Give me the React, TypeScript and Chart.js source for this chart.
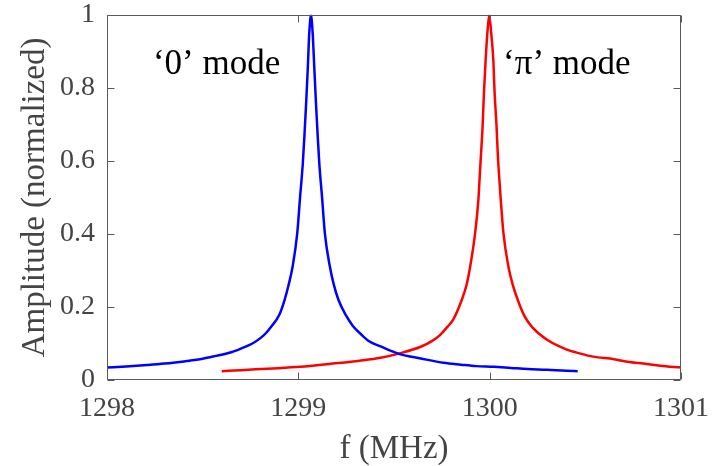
import React, { useEffect, useRef } from "react";
import { Chart, registerables } from "chart.js";

Chart.register(...registerables);

// '0' mode (blue) — frequency (MHz) and normalized amplitude
const blueFreq = [
  1298.0, 1298.1, 1298.21, 1298.3, 1298.43, 1298.5, 1298.57, 1298.65, 1298.7, 1298.76,
  1298.8, 1298.83, 1298.86, 1298.9, 1298.928, 1298.95, 1298.97, 1298.994, 1299.009, 1299.023,
  1299.032, 1299.041, 1299.05, 1299.056, 1299.062, 1299.066, 1299.07, 1299.076, 1299.083, 1299.092,
  1299.101, 1299.11, 1299.124, 1299.139, 1299.165, 1299.185, 1299.21, 1299.25, 1299.285, 1299.33,
  1299.37, 1299.43, 1299.53, 1299.64, 1299.76, 1299.85, 1299.93, 1300.02, 1300.11, 1300.2,
  1300.3, 1300.4, 1300.46,
];
const blueAmp = [
  0.034, 0.037, 0.041, 0.045, 0.053, 0.058, 0.066, 0.076, 0.086, 0.1,
  0.114, 0.128, 0.147, 0.178, 0.219, 0.262, 0.31, 0.4, 0.5, 0.59,
  0.67, 0.76, 0.86, 0.94, 0.985, 1.0, 0.985, 0.94, 0.86, 0.76,
  0.67, 0.59, 0.5, 0.4, 0.31, 0.262, 0.219, 0.176, 0.148, 0.124,
  0.106, 0.092, 0.071, 0.059, 0.047, 0.042, 0.038, 0.036, 0.033, 0.03,
  0.028, 0.025, 0.024,
];

// 'π' mode (red)
const redFreq = [
  1298.6, 1298.7, 1298.84, 1299.01, 1299.18, 1299.32, 1299.43, 1299.53, 1299.64, 1299.7,
  1299.74, 1299.78, 1299.81, 1299.854, 1299.88, 1299.898, 1299.924, 1299.941, 1299.946, 1299.954,
  1299.963, 1299.97, 1299.979, 1299.988, 1299.998, 1300.008, 1300.019, 1300.026, 1300.036, 1300.043,
  1300.052, 1300.058, 1300.072, 1300.098, 1300.12, 1300.147, 1300.18, 1300.22, 1300.3, 1300.4,
  1300.47, 1300.54, 1300.65, 1300.72, 1300.82, 1300.89, 1301.0,
];
const redAmp = [
  0.024, 0.027, 0.031, 0.036, 0.045, 0.053, 0.061, 0.073, 0.091, 0.107,
  0.123, 0.146, 0.166, 0.219, 0.262, 0.31, 0.402, 0.493, 0.539, 0.612,
  0.694, 0.785, 0.877, 0.95, 1.0, 0.95, 0.877, 0.785, 0.694, 0.612,
  0.539, 0.493, 0.402, 0.31, 0.262, 0.219, 0.177, 0.146, 0.11, 0.084,
  0.073, 0.064, 0.057, 0.05, 0.044, 0.039, 0.034,
];

const xTicks = [1298, 1299, 1300, 1301];
const xTickLabels = ["1298", "1299", "1300", "1301"];
const yTicks = [0, 0.2, 0.4, 0.6, 0.8, 1];
const yTickLabels = ["0", "0.2", "0.4", "0.6", "0.8", "1"];

const xTitle = "f (MHz)";
const yTitle = "Amplitude (normalized)";

// text annotations, anchored in data units (left / baseline)
const noteTexts = ["\u20180\u2019 mode", "\u2018\u03c0\u2019 mode"];
const noteFreq = [1298.24, 1300.07];
const noteAmp = [0.838, 0.838];

const SERIF = '"Liberation Serif", "Times New Roman", Tinos, "DejaVu Serif", "Noto Serif", serif';
const GREY = "#444444";

const boxPlugin = {
  id: "boxAndTicks",
  afterDatasetsDraw(chart: any) {
    const { ctx, chartArea, scales } = chart;
    const { left, right, top, bottom } = chartArea;
    const L = Math.round(left) + 0.5;
    const R = Math.round(right) - 0.5;
    const T = Math.round(top) + 0.5;
    const B = Math.round(bottom) - 0.5;
    ctx.save();
    ctx.strokeStyle = "#5a5a5a";
    ctx.lineWidth = 1;
    ctx.beginPath();
    ctx.rect(L, T, R - L, B - T);
    const tl = 7;
    xTicks.forEach((v) => {
      const x = Math.round(scales.x.getPixelForValue(v)) + 0.5;
      ctx.moveTo(x, B);
      ctx.lineTo(x, B - tl);
      ctx.moveTo(x, T);
      ctx.lineTo(x, T + tl);
    });
    yTicks.forEach((v) => {
      const y = Math.round(scales.y.getPixelForValue(v)) + 0.5;
      ctx.moveTo(L, y);
      ctx.lineTo(L + tl, y);
      ctx.moveTo(R, y);
      ctx.lineTo(R - tl, y);
    });
    ctx.stroke();

    ctx.fillStyle = "#000000";
    ctx.font = `35px ${SERIF}`;
    ctx.textAlign = "left";
    ctx.textBaseline = "alphabetic";
    noteTexts.forEach((t, i) => {
      const x = scales.x.getPixelForValue(noteFreq[i]);
      const y = scales.y.getPixelForValue(noteAmp[i]);
      ctx.fillText(t, x, y);
    });
    ctx.restore();
  },
};

export default function App() {
  const canvasRef = useRef<HTMLCanvasElement | null>(null);

  useEffect(() => {
    if (!canvasRef.current) return;
    const chart = new Chart(canvasRef.current, {
      type: "line",
      data: {
        datasets: [
          {
            label: "'0' mode",
            data: blueFreq.map((f, i) => ({ x: f, y: blueAmp[i] })),
            borderColor: "#0000ff",
            borderWidth: 2.5,
            pointRadius: 0,
            fill: false,
            cubicInterpolationMode: "monotone",
          },
          {
            label: "'π' mode",
            data: redFreq.map((f, i) => ({ x: f, y: redAmp[i] })),
            borderColor: "#ff0000",
            borderWidth: 2.5,
            pointRadius: 0,
            fill: false,
            cubicInterpolationMode: "monotone",
          },
        ],
      },
      options: {
        animation: false,
        responsive: true,
        maintainAspectRatio: false,
        layout: { padding: { top: 0, right: 42, left: 0, bottom: 0 } },
        plugins: {
          legend: { display: false },
          tooltip: { enabled: false },
        },
        scales: {
          x: {
            type: "linear",
            min: 1298,
            max: 1301,
            grid: { display: false, drawTicks: false },
            border: { display: false },
            afterBuildTicks: (scale: any) => {
              scale.ticks = xTicks.map((v) => ({ value: v }));
            },
            afterFit: (scale: any) => {
              scale.height = 86;
            },
            ticks: {
              autoSkip: false,
              maxRotation: 0,
              padding: 12,
              color: GREY,
              font: { family: SERIF, size: 28 },
              callback: (_v: any, i: number) => xTickLabels[i],
            },
            title: {
              display: true,
              text: xTitle,
              color: GREY,
              font: { family: SERIF, size: 33, lineHeight: 1.0 },
              padding: { top: 0, bottom: 0 },
            },
          },
          y: {
            type: "linear",
            min: 0,
            max: 1,
            grid: { display: false, drawTicks: false },
            border: { display: false },
            afterBuildTicks: (scale: any) => {
              scale.ticks = yTicks.map((v) => ({ value: v }));
            },
            afterFit: (scale: any) => {
              scale.width = 107;
            },
            ticks: {
              autoSkip: false,
              padding: 12,
              color: GREY,
              font: { family: SERIF, size: 28, lineHeight: 0.2 },
              callback: (_v: any, i: number) => yTickLabels[i],
            },
            title: {
              display: true,
              text: yTitle,
              color: GREY,
              font: { family: SERIF, size: 33 },
              padding: { top: 16, bottom: 0 },
            },
          },
        },
      },
      plugins: [boxPlugin],
    } as any);
    return () => chart.destroy();
  }, []);

  return (
    <div
      style={{
        position: "absolute",
        left: 0,
        top: 0,
        width: 723,
        height: 466,
        background: "#ffffff",
      }}
    >
      <canvas ref={canvasRef} />
    </div>
  );
}
